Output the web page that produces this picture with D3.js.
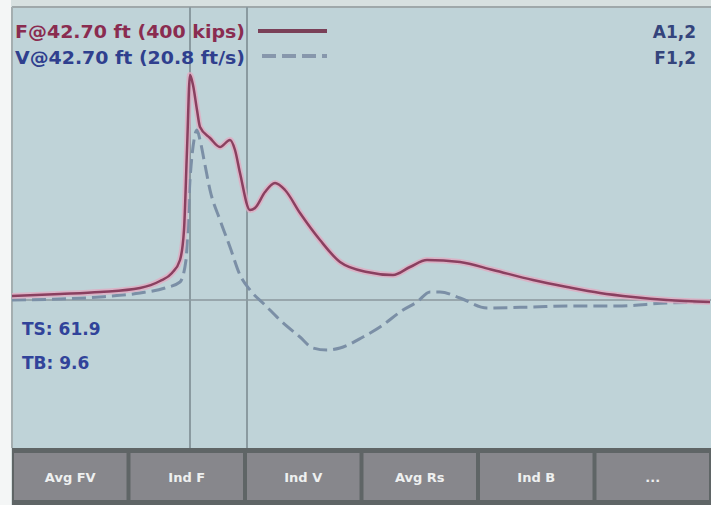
<!DOCTYPE html>
<html>
<head>
<meta charset="utf-8">
<script src="https://cdn.jsdelivr.net/npm/d3@7/dist/d3.min.js"></script>
<style>
  html, body { margin: 0; padding: 0; background: #ffffff; }
  svg { display: block; }
</style>
</head>
<body>
<div id="chart"></div>
<script>
// ---- Data (time in ms, force / velocity*impedance in kips) ----
const forceT = [0, 9.6, 17.6, 25.6, 29.6, 32, 33.6, 34.4, 35, 35.6, 36.2, 37, 37.6, 39.6, 41.6, 43.6, 44.6, 45.6, 47.6, 48.6, 50.6, 52.6, 54.6, 57.6, 61.6, 65.6, 71, 76.2, 79.6, 83, 89.6, 96.2, 104.2, 111, 117.6, 124.2, 131, 139.6];
const forceV = [8, 12, 16, 24, 38, 54, 80, 140, 300, 450, 430, 380, 346, 324, 306, 320, 300, 254, 180, 184, 216, 234, 220, 174, 120, 76, 56, 50, 66, 80, 76, 60, 40, 26, 14, 6, 0, -4];

const velT = [0, 9.6, 17.6, 25.6, 30.6, 33.6, 34.8, 35.6, 36.4, 37, 37.6, 38.6, 39.6, 41.6, 43.6, 45.6, 47.6, 50.6, 53.6, 57.6, 60.2, 63, 65.6, 70.2, 73.6, 78.2, 81, 83.6, 85.6, 89.6, 95, 104.2, 111, 121, 131, 139.6];
const velV = [0, 2, 6, 14, 24, 36, 80, 240, 320, 340, 320, 270, 220, 160, 106, 50, 20, -10, -40, -74, -96, -100, -96, -74, -54, -20, -4, 16, 16, 4, -16, -14, -12, -12, -6, -4];

const markerT = [35.6, 47];          // vertical time markers
const legendLabels = ["F@42.70 ft (400 kips)", "V@42.70 ft (20.8 ft/s)"];
const cornerLabels = ["A1,2", "F1,2"];
const statLabels = ["TS: 61.9", "TB: 9.6"];
const buttonLabels = ["Avg FV", "Ind F", "Ind V", "Avg Rs", "Ind B", "..."];

// ---- Layout ----
const W = 711, H = 505;
const plot = { left: 12, right: 711, top: 7, bottom: 448 };

const svg = d3.select("#chart").append("svg")
  .attr("width", W).attr("height", H)
  .style("font-family", "'DejaVu Sans', Verdana, sans-serif");

// outer background
svg.append("rect").attr("x", 0).attr("y", 0).attr("width", W).attr("height", H).attr("fill", "#d7e0e0");
svg.append("rect").attr("x", 0).attr("y", 0).attr("width", 11).attr("height", H).attr("fill", "#f4f6f6");

// plot area
svg.append("rect")
  .attr("x", plot.left).attr("y", plot.top)
  .attr("width", plot.right - plot.left).attr("height", plot.bottom - plot.top)
  .attr("fill", "#bfd3d8");
svg.append("line").attr("x1", plot.left).attr("x2", plot.right).attr("y1", plot.top).attr("y2", plot.top)
  .attr("stroke", "#9fa8aa").attr("stroke-width", 2);
svg.append("line").attr("x1", plot.left).attr("x2", plot.left).attr("y1", plot.top).attr("y2", plot.bottom)
  .attr("stroke", "#a4aeb0").attr("stroke-width", 2);

const x = d3.scaleLinear().domain([0, 139.8]).range([plot.left, plot.right]);
const y = d3.scaleLinear().domain([-296, 586]).range([plot.bottom, plot.top]);

// zero line
svg.append("line")
  .attr("x1", plot.left).attr("x2", plot.right)
  .attr("y1", y(0)).attr("y2", y(0))
  .attr("stroke", "#98a6ac").attr("stroke-width", 2);

// vertical markers
svg.selectAll(".vmark").data(markerT).enter().append("line")
  .attr("class", "vmark")
  .attr("x1", d => x(d)).attr("x2", d => x(d))
  .attr("y1", plot.top).attr("y2", plot.bottom)
  .attr("stroke", "#8a9aa0").attr("stroke-width", 2);

const line = d3.line().x(d => x(d[0])).y(d => y(d[1])).curve(d3.curveMonotoneX);
const forceData = forceT.map((t, i) => [t, forceV[i]]);
const velData = velT.map((t, i) => [t, velV[i]]);

// velocity (dashed)
svg.append("path").datum(velData)
  .attr("d", line).attr("fill", "none")
  .attr("stroke", "#7b8fa6").attr("stroke-width", 3)
  .attr("stroke-dasharray", "14,6");

// force (solid with pink halo)
svg.append("path").datum(forceData)
  .attr("d", line).attr("fill", "none")
  .attr("stroke", "#e3a8c0").attr("stroke-width", 6).attr("stroke-opacity", 0.75)
  .attr("stroke-linejoin", "round");
svg.append("path").datum(forceData)
  .attr("d", line).attr("fill", "none")
  .attr("stroke", "#8a4060").attr("stroke-width", 2.5)
  .attr("stroke-linejoin", "round");

// legend
const legendColors = ["#8a2c50", "#2f3f8e"];
svg.selectAll(".legtext").data(legendLabels).enter().append("text")
  .attr("x", 15).attr("y", (d, i) => 38 + i * 26)
  .attr("font-size", 17).attr("font-weight", "bold")
  .attr("textLength", 230).attr("lengthAdjust", "spacingAndGlyphs")
  .attr("fill", (d, i) => legendColors[i])
  .text(d => d);
svg.append("line").attr("x1", 258).attr("x2", 327).attr("y1", 31).attr("y2", 31)
  .attr("stroke", "#7a4058").attr("stroke-width", 4);
svg.append("line").attr("x1", 262).attr("x2", 327).attr("y1", 56).attr("y2", 56)
  .attr("stroke", "#8797ac").attr("stroke-width", 4).attr("stroke-dasharray", "14,6");

// corner labels
svg.selectAll(".corner").data(cornerLabels).enter().append("text")
  .attr("x", 696).attr("y", (d, i) => 38 + i * 26)
  .attr("text-anchor", "end")
  .attr("font-size", 17).attr("font-weight", "bold")
  .attr("fill", "#34447c")
  .text(d => d);

// stats
svg.selectAll(".stat").data(statLabels).enter().append("text")
  .attr("x", 22).attr("y", (d, i) => 335 + i * 34)
  .attr("font-size", 17).attr("font-weight", "bold")
  .attr("fill", "#31439a")
  .text(d => d);

// button bar
svg.append("rect").attr("x", plot.left).attr("y", 448).attr("width", W - plot.left).attr("height", H - 448)
  .attr("fill", "#5f6566");
const bx = d3.scaleBand().domain(buttonLabels).range([plot.left, W]).paddingInner(0);
svg.selectAll(".btn").data(buttonLabels).enter().append("rect")
  .attr("x", d => bx(d) + 2).attr("y", 453)
  .attr("width", bx.bandwidth() - 4).attr("height", 47)
  .attr("fill", "#87878c");
svg.selectAll(".btntext").data(buttonLabels).enter().append("text")
  .attr("x", d => bx(d) + bx.bandwidth() / 2).attr("y", 482)
  .attr("text-anchor", "middle")
  .attr("font-size", 13).attr("font-weight", "bold")
  .attr("fill", "#eef0f0")
  .text(d => d);
</script>
</body>
</html>
